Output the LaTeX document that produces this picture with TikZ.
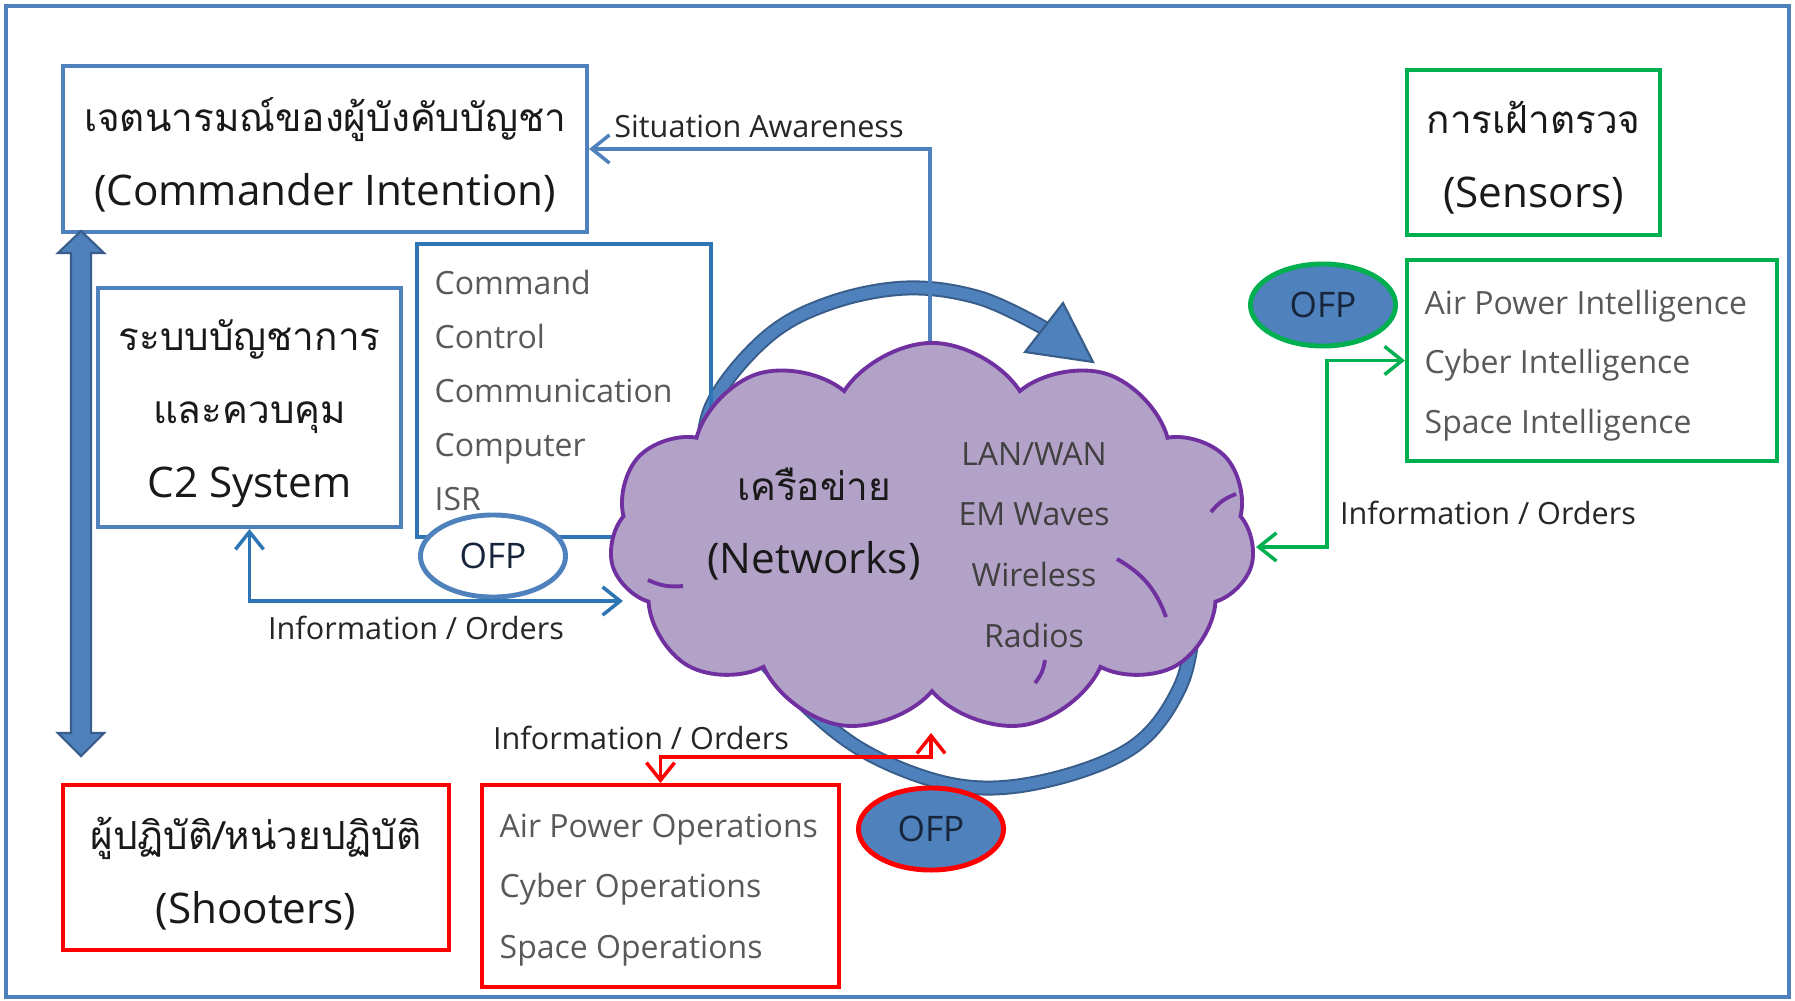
\documentclass[tikz,border=0pt]{standalone}
\usepackage{fontspec}
\setmainfont{Open Sans}
\newfontfamily\thaifont[Script=Thai]{Loma}
\usetikzlibrary{arrows.meta,shapes.symbols,shapes.geometric}
\definecolor{boxblue}{HTML}{4F81BD}
\definecolor{linkblue}{HTML}{2E75B6}
\definecolor{ringdark}{HTML}{385D8A}
\definecolor{okgreen}{HTML}{00B050}
\definecolor{alertred}{HTML}{FF0000}
\definecolor{cloudfill}{HTML}{B3A2C7}
\definecolor{cloudline}{HTML}{7030A0}
\definecolor{listgray}{HTML}{595959}
\definecolor{ofptext}{HTML}{17253B}
\newcommand{\thailine}[1]{{\thaifont\fontsize{11}{21}\selectfont #1}}
\begin{document}
\begin{tikzpicture}[x=0.01cm,y=-0.01cm,
		box/.style={draw=#1,line width=1.1pt,rectangle,inner sep=0pt},
		head/.style={font=\fontsize{12}{21}\selectfont,align=center,text=black!90},
		list/.style={font=\fontsize{9.1}{#1}\selectfont,align=left,text=listgray,anchor=west,inner sep=0pt},
		lbl/.style={font=\fontsize{8.7}{10}\selectfont,text=black!85},
		ofp/.style={ellipse,line width=1.4pt,inner sep=0pt,minimum width=1.45cm,minimum height=0.82cm,font=\fontsize{10}{12}\selectfont,text=ofptext},
		crease/.style={cloudline,line width=1.1pt},
		link/.style={line width=1pt,{Straight Barb[length=5pt,width=8pt]}-{Straight Barb[length=5pt,width=8pt]}}]
	\useasboundingbox (0,0) rectangle (1795,1000);
	\draw[boxblue,line width=1.2pt] (6,6) rectangle (1789,997);
	% ring round the network
	\draw[boxblue,line width=0.11cm,preaction={draw=ringdark,line width=0.15cm}] plot[smooth,tension=0.6] coordinates {(1212,560) (1197,613) (1180,687) (1133,747) (1045,781) (960,786) (871,755) (804,704) (745,635) (710,550) (703,470) (713,403) (767,337) (830,303) (907,288) (980,298) (1044,328)};
	\draw[fill=boxblue,draw=ringdark,line width=0.6pt] (1063,303) -- (1093,362) -- (1025,352) -- cycle;
	\node[box=boxblue,minimum width=5.24cm,minimum height=1.66cm] (cmd) at (325,149) {};
	\node[box=linkblue,minimum width=2.94cm,minimum height=2.93cm] (ccc) at (564,390.5) {};
	\node[list=15.3] (ccclist) at ([xshift=0.19cm]ccc.west) {Command\\Control\\Communication\\Computer\\ISR};
	\coordinate (netT) at (930,430);
	\draw[boxblue,line width=1pt,-{Straight Barb[length=5pt,width=8pt]}] (netT) |- (cmd.east);
	\node[cloud,cloud puffs=11,cloud puff arc=115,aspect=1.66,minimum width=6.45cm,minimum height=3.9cm,fill=cloudfill,draw=cloudline,line width=1.1pt] (net) at (932,538) {};
	\draw[crease] (1117,559) to[bend left=20] (1166,617);
	\draw[crease] (648,580) to[bend right=15] (683,586);
	\draw[crease] (1211,512) to[bend left=15] (1236,494);
	\draw[crease] (1035,683) to[bend right=15] (1045,660);
	\node[head] (netname) at (814,524) {\thailine{เครือข่าย}\\(Networks)};
	\node[list=17.3,anchor=center,align=center,text=black!75] (netlist) at (1034,545) {LAN/WAN\\EM Waves\\Wireless\\Radios};
	\coordinate (netL) at (623,601);
	\coordinate (netR) at (1256,547);
	\coordinate (netB) at (931,733);
	\node[box=boxblue,minimum width=3.03cm,minimum height=2.39cm] (c2) at (249.5,407.5) {};
	\node[box=okgreen,minimum width=2.53cm,minimum height=1.65cm] (sen) at (1533.5,152.5) {};
	\node[box=okgreen,minimum width=3.70cm,minimum height=2.01cm] (intel) at (1592,360.5) {};
	\node[list=17] (intellist) at ([xshift=0.19cm,yshift=-0.05cm]intel.west) {Air Power Intelligence\\Cyber Intelligence\\Space Intelligence};
	\node[box=alertred,minimum width=3.86cm,minimum height=1.65cm] (shoot) at (256,867.5) {};
	\node[box=alertred,minimum width=3.57cm,minimum height=2.02cm] (ops) at (660.5,886) {};
	\node[list=17.3] (opslist) at ([xshift=0.19cm,yshift=-0.04cm]ops.west) {Air Power Operations\\Cyber Operations\\Space Operations};
	% box headings
	\node[head] (cmdtext) at ([yshift=-0.06cm]cmd.center) {\thailine{เจตนารมณ์ของผู้บังคับบัญชา}\\(Commander Intention)};
	\node[head] (c2text) at ([yshift=-0.06cm]c2.center) {\thailine{ระบบบัญชาการ}\\\thailine{และควบคุม}\\C2 System};
	\node[head] (sentext) at ([yshift=-0.05cm]sen.center) {\thailine{การเฝ้าตรวจ}\\(Sensors)};
	\node[head] (shoottext) at ([yshift=-0.06cm]shoot.center) {\thailine{ผู้ปฏิบัติ/หน่วยปฏิบัติ}\\(Shooters)};
	\node[ofp,draw=boxblue,fill=white] (ofpc) at (493,556) {OFP};
	\node[ofp,draw=okgreen,fill=boxblue] (ofps) at (1323,305) {OFP};
	\node[ofp,draw=alertred,fill=boxblue] (ofpo) at (931,829) {OFP};
	% links
	\draw[link,linkblue] (c2.south) |- (netL);
	\draw[link,okgreen] (intel.west) -- ++(-78,0) |- (netR);
	\draw[link,alertred] (netB) -- ++(0,24) -| (ops.north);
	\node[lbl] (salbl) at (759,126) {Situation Awareness};
	\node[lbl] (c2lbl) at (416,628) {Information / Orders};
	\node[lbl] (senlbl) at (1488,513) {Information / Orders};
	\node[lbl] (oplbl) at (641,738) {Information / Orders};
	% command to shooters
	\draw[fill=boxblue,draw=ringdark,line width=0.6pt] (81,231) -- (104,253) -- (91,253) -- (91,733) -- (104,733) -- (81,756) -- (58,733) -- (71,733) -- (71,253) -- (58,253) -- cycle;
\end{tikzpicture}
\end{document}
